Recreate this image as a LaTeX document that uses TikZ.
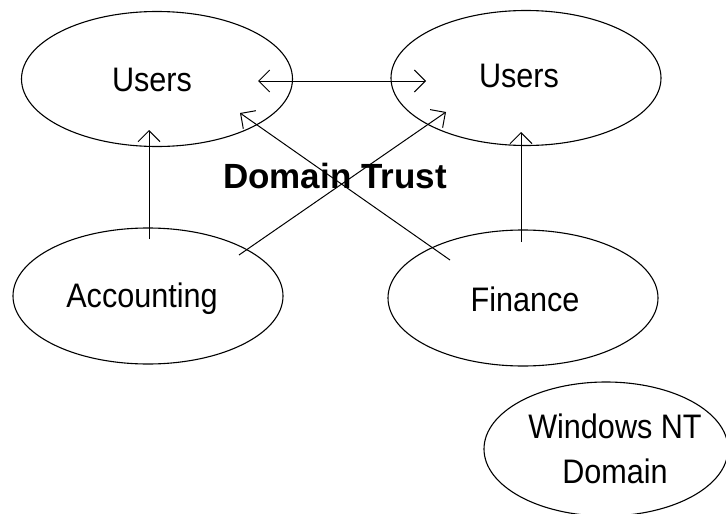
\documentclass[tikz,border=0pt]{standalone}
\usepackage{fontspec}
\setmainfont[FakeStretch=0.9]{Liberation Sans}
\newfontfamily\titlefont{Liberation Sans}
\usetikzlibrary{shapes.geometric,arrows.meta}

\tikzset{
  >={Straight Barb[length=11pt,width=22pt,line width=1pt]},
  domshape/.style={ellipse, draw=black, line width=1.1pt, inner sep=0pt},
  lbl/.style={anchor=base, inner sep=0pt, font=\fontsize{34}{38}\selectfont},
  titlelbl/.style={anchor=base, inner sep=0pt, font=\titlefont\bfseries\fontsize{35}{40}\selectfont},
  trust/.style={line width=1pt, ->},
  mutualtrust/.style={line width=1pt, <->},
}

\begin{document}
\begin{tikzpicture}[x=1pt, y=-1pt]
  \useasboundingbox (0,0) rectangle (726,514);
  \begin{scope}
    \clip (0,0) rectangle (726,514);

    % domain ellipses
    \node[domshape, minimum width=271pt, minimum height=135pt] (usersA) at (157,79) {};
    \node[domshape, minimum width=270pt, minimum height=135pt] (usersB) at (526,78) {};
    \node[domshape, minimum width=270pt, minimum height=136pt] (acct)   at (148,296) {};
    \node[domshape, minimum width=270pt, minimum height=136pt] (fin)    at (523,298) {};
    \node[domshape, minimum width=244pt, minimum height=134pt] (nt)     at (606,449) {};

    % labels
    \node[lbl] (usersAtxt) at (152,91)  {Users};
    \node[lbl] (usersBtxt) at (519,87)  {Users};
    \node[lbl] (accttxt)   at (142,307) {Accounting};
    \node[lbl] (fintxt)    at (525,311) {Finance};
    \node[lbl] (nttxt1)    at (615,438) {Windows NT};
    \node[lbl] (nttxt2)    at (615,483) {Domain};
    \node[titlelbl] (trusttxt) at (335,188) {Domain Trust};

    % connector end points
    \coordinate (hL)  at (258,81);
    \coordinate (hR)  at (426,81);
    \coordinate (vA1) at (149,239);
    \coordinate (vA2) at (149,130);
    \coordinate (vB1) at (521,242);
    \coordinate (vB2) at (521,132);
    \coordinate (dA1) at (239,255);
    \coordinate (dA2) at (446,112);
    \coordinate (dB1) at (450,260);
    \coordinate (dB2) at (240,113);

    % trust relationships
    \draw[mutualtrust] (hL) -- (hR);
    \draw[trust] (vA1) -- (vA2);
    \draw[trust] (vB1) -- (vB2);
    \draw[trust] (dA1) -- (dA2);
    \draw[trust] (dB1) -- (dB2);
  \end{scope}
\end{tikzpicture}
\end{document}
